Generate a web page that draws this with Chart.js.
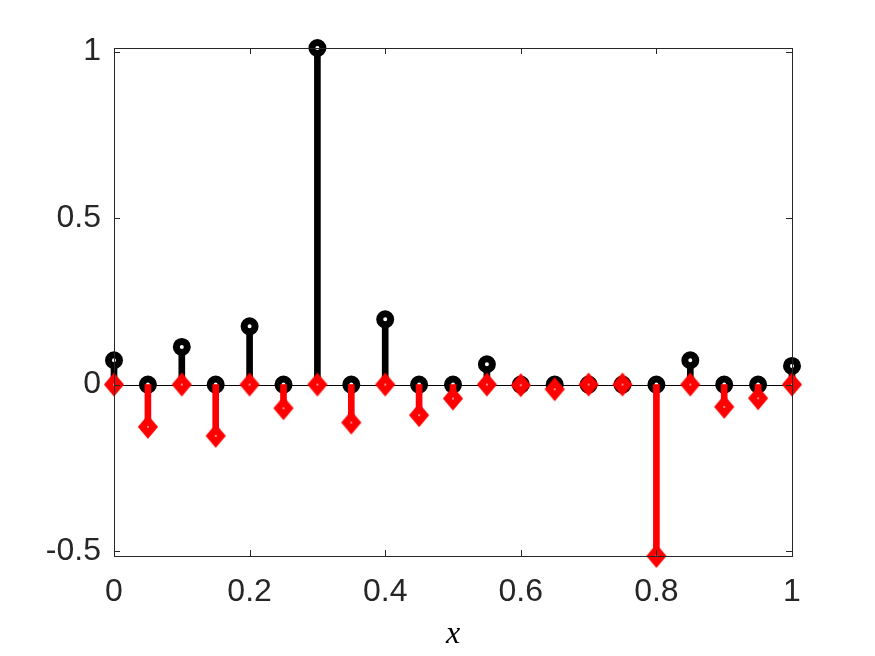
<!DOCTYPE html>
<html lang="en">
<head>
    <meta charset="UTF-8">
    <title>Stem plot</title>
    <script src="https://cdn.jsdelivr.net/npm/chart.js"></script>
    <style>
        html, body { margin: 0; padding: 0; background: #fff; }
        #wrap { width: 875px; height: 656px; }
    </style>
</head>
<body>
    <div id="wrap"><canvas id="stemChart" width="875" height="656"></canvas></div>

    <script>
        // sample positions and the two stem series
        const xs = [0, 0.05, 0.1, 0.15, 0.2, 0.25, 0.3, 0.35, 0.4, 0.45, 0.5,
                    0.55, 0.6, 0.65, 0.7, 0.75, 0.8, 0.85, 0.9, 0.95, 1];
        const blackVals = [0.073, 0, 0.113, 0, 0.175, 0, 1.011, 0, 0.196, 0, 0,
                           0.061, 0, 0, 0, 0, 0, 0.073, 0, 0, 0.056];
        const redVals = [0, -0.127, 0, -0.154, 0, -0.071, 0, -0.114, 0, -0.092, -0.042,
                         0, -0.002, -0.014, 0, 0, -0.515, 0, -0.067, -0.041, 0];
        const xTicks = [0, 0.2, 0.4, 0.6, 0.8, 1];
        const yTicks = [-0.5, 0, 0.5, 1];

        const axisColor = "#262626";
        const fontFam = "'Liberation Sans', Arial, sans-serif";

        // tall diamond marker like matlab's 'd'
        function diamondMarker() {
            const c = document.createElement("canvas");
            c.width = 28; c.height = 32;
            const g = c.getContext("2d");
            g.beginPath();
            g.moveTo(14, 9.5);
            g.lineTo(19.5, 16);
            g.lineTo(14, 22.5);
            g.lineTo(8.5, 16);
            g.closePath();
            g.fillStyle = "#fff";
            g.fill();
            g.lineWidth = 7;
            g.lineJoin = "miter";
            g.strokeStyle = "#ff0000";
            g.stroke();
            return c;
        }

        const stems = vals => xs.map((x, i) => ({ x: x, y: [0, vals[i]] }));
        const pts = vals => xs.map((x, i) => ({ x: x, y: vals[i] }));

        // baseline, box and inward ticks (matlab look)
        const axesPlugin = {
            id: "axesPlugin",
            beforeDatasetsDraw(chart) {
                const { ctx, scales: { x, y } } = chart;
                ctx.save();
                ctx.strokeStyle = "#000";
                ctx.lineWidth = 1;
                const y0 = Math.round(y.getPixelForValue(0)) + 0.5;
                ctx.beginPath();
                ctx.moveTo(x.getPixelForValue(0), y0);
                ctx.lineTo(x.getPixelForValue(1), y0);
                ctx.stroke();
                ctx.restore();
            },
            afterDatasetsDraw(chart) {
                const { ctx, chartArea: a, scales: { x, y } } = chart;
                ctx.save();
                ctx.strokeStyle = axisColor;
                ctx.lineWidth = 1;
                ctx.strokeRect(Math.round(a.left) + 0.5, Math.round(a.top) + 0.5,
                               Math.round(a.right - a.left), Math.round(a.bottom - a.top));
                const t = 6;
                ctx.beginPath();
                xTicks.forEach(v => {
                    const px = Math.round(x.getPixelForValue(v)) + 0.5;
                    ctx.moveTo(px, a.bottom); ctx.lineTo(px, a.bottom - t);
                    ctx.moveTo(px, a.top); ctx.lineTo(px, a.top + t);
                });
                yTicks.forEach(v => {
                    const py = Math.round(y.getPixelForValue(v)) + 0.5;
                    ctx.moveTo(a.left, py); ctx.lineTo(a.left + t, py);
                    ctx.moveTo(a.right, py); ctx.lineTo(a.right - t, py);
                });
                ctx.stroke();
                ctx.restore();
            }
        };

        const ctx = document.getElementById("stemChart").getContext("2d");
        new Chart(ctx, {
            type: "scatter",
            data: {
                datasets: [
                    {
                        type: "scatter",
                        label: "red markers",
                        data: pts(redVals),
                        pointStyle: diamondMarker(),
                        order: 0,
                        clip: false
                    },
                    {
                        type: "bar",
                        label: "red stems",
                        data: stems(redVals),
                        backgroundColor: "#ff0000",
                        barThickness: 6,
                        grouped: false,
                        order: 1,
                        clip: false
                    },
                    {
                        type: "scatter",
                        label: "black markers",
                        data: pts(blackVals),
                        pointStyle: "circle",
                        pointRadius: 5.5,
                        pointBorderWidth: 7,
                        borderColor: "#000",
                        backgroundColor: "#fff",
                        order: 2,
                        clip: false
                    },
                    {
                        type: "bar",
                        label: "black stems",
                        data: stems(blackVals),
                        backgroundColor: "#000",
                        barThickness: 6,
                        grouped: false,
                        order: 3,
                        clip: false
                    }
                ]
            },
            options: {
                responsive: false,
                animation: false,
                events: [],
                layout: { padding: { top: 48, right: 83, left: 0, bottom: 0 } },
                plugins: {
                    legend: { display: false },
                    tooltip: { enabled: false }
                },
                scales: {
                    x: {
                        type: "linear",
                        min: 0,
                        max: 1,
                        offset: false,
                        afterBuildTicks: s => { s.ticks = xTicks.map(v => ({ value: v })); },
                        afterFit: s => { s.height = 100; },
                        grid: { display: false, drawTicks: false },
                        border: { display: false },
                        ticks: {
                            color: axisColor,
                            padding: 17,
                            maxRotation: 0,
                            font: { family: fontFam, size: 32 },
                            callback: v => String(v)
                        },
                        title: {
                            display: true,
                            text: "x",
                            color: "#000",
                            padding: { top: 0, bottom: 2 },
                            font: { family: "'Liberation Serif', 'DejaVu Serif', serif", size: 32, style: "italic" }
                        }
                    },
                    y: {
                        type: "linear",
                        min: -0.515,
                        max: 1.011,
                        afterBuildTicks: s => { s.ticks = yTicks.map(v => ({ value: v })); },
                        afterFit: s => { s.width = 114; },
                        grid: { display: false, drawTicks: false },
                        border: { display: false },
                        ticks: {
                            color: axisColor,
                            padding: 13,
                            font: { family: fontFam, size: 32 },
                            callback: v => String(v)
                        }
                    }
                }
            },
            plugins: [axesPlugin]
        });
    </script>
</body>
</html>
